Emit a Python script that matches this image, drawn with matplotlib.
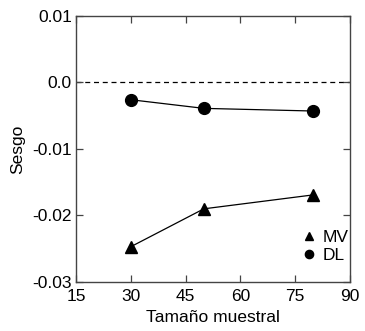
import numpy as np
import matplotlib
matplotlib.use("Agg")
import matplotlib.pyplot as plt

plt.rcParams['font.family'] = ['Liberation Sans', 'DejaVu Sans']

# Datos
tamano = [30, 50, 80]
sesgo_mv = [-0.0247, -0.0190, -0.0169]
sesgo_dl = [-0.0026, -0.0039, -0.0043]

xticks = [15, 30, 45, 60, 75, 90]
yticks = [-0.03, -0.02, -0.01, 0.0, 0.01]
yticklabels = ["-0.03", "-0.02", "-0.01", "0.0", "0.01"]

fig = plt.figure(figsize=(3.65, 3.31), dpi=100)
ax = fig.add_axes([0.208, 0.148, 0.751, 0.804])

ax.axhline(0.0, color='black', lw=0.9, ls=(0, (4, 3)), zorder=1)
ax.plot(tamano, sesgo_mv, color='black', lw=0.9, marker='^', ms=8.5, label='MV')
ax.plot(tamano, sesgo_dl, color='black', lw=0.9, marker='o', ms=8.5, label='DL')

ax.set_xlim(15, 90)
ax.set_ylim(-0.03, 0.01)
ax.set_xticks(xticks)
ax.set_yticks(yticks)
ax.set_yticklabels(yticklabels)

ax.tick_params(direction='in', top=True, right=True, length=5, width=0.9,
               color='#444444', labelsize=12.5)
ax.tick_params(axis='x', pad=5)
ax.tick_params(axis='y', pad=3)
for s in ax.spines.values():
    s.set_color('#444444')
    s.set_linewidth(1.0)

ax.set_xlabel("Tamaño muestral", fontsize=12.5, labelpad=4)
ax.set_ylabel("Sesgo", fontsize=12.5, labelpad=5)

leg = ax.legend(loc='lower right', frameon=False, fontsize=12.5, handlelength=0.6,
                handletextpad=0.5, borderaxespad=0.0, labelspacing=0.15,
                markerscale=0.7, bbox_to_anchor=(1.02, 0.045))
for h in leg.legend_handles:
    h.set_linestyle('none')

fig.savefig("out.png", dpi=100)
